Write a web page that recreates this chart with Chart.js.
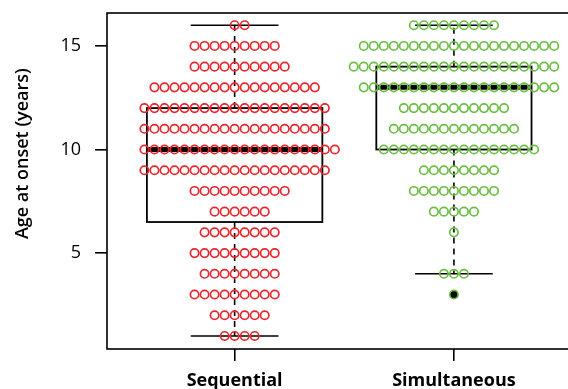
<!DOCTYPE html>
<html>
<head>
<meta charset="utf-8">
<script src="https://cdn.jsdelivr.net/npm/chart.js@4"></script>
<style>
  html, body { margin: 0; padding: 0; background: #fff; overflow: hidden; }
  #wrap { width: 580px; height: 389px; }
</style>
</head>
<body>
<div id="wrap"><canvas id="c" width="580" height="389"></canvas></div>
<script>
// ---- data ----
const categories = ['Sequential', 'Simultaneous'];
const ageLevels = [16, 15, 14, 13, 12, 11, 10, 9, 8, 7, 6, 5, 4, 3, 2, 1];
const sequentialCounts   = [2, 9, 10, 17, 19, 19, 20, 19, 10, 6, 8, 9, 8, 9, 6, 4];
const simultaneousCounts = [9, 20, 21, 20, 11, 13, 16, 8, 9, 5, 1, 0, 3, 1, 0, 0];
// box stats: [lower whisker, Q1, median, Q3, upper whisker]
const sequentialBox   = [1, 6.5, 10, 12, 16];
const simultaneousBox = [4, 10, 13, 14, 16];
const simultaneousOutliers = [3];
const yTicks = [5, 10, 15];
const yTitle = 'Age at onset (years)';

// ---- style / layout ----
const RED = '#e8262d';
const GREEN = '#6cbd45';
const DOT_STEP = 0.0457;      // horizontal spacing of swarm dots (x units)
const BOX_MAX_WIDTH = 0.8;    // varwidth boxes, widest = 0.8

function swarm(center, counts) {
  const pts = [];
  ageLevels.forEach((age, i) => {
    const n = counts[i];
    const start = Math.floor((n - 1) / 2);
    for (let k = 0; k < n; k++) {
      pts.push({ x: center + (k - start) * DOT_STEP, y: age });
    }
  });
  return pts;
}
const sum = a => a.reduce((s, v) => s + v, 0);
const nSeq = sum(sequentialCounts), nSim = sum(simultaneousCounts);
const nMax = Math.max(nSeq, nSim);
const boxes = [
  { pos: 1, stats: sequentialBox, w: BOX_MAX_WIDTH * Math.sqrt(nSeq / nMax) },
  { pos: 2, stats: simultaneousBox, w: BOX_MAX_WIDTH * Math.sqrt(nSim / nMax) }
];

const boxPlugin = {
  id: 'boxes',
  beforeDatasetsDraw(chart) {
    const { ctx, scales: { x, y } } = chart;
    ctx.save();
    ctx.strokeStyle = '#000';
    boxes.forEach(b => {
      const [lo, q1, med, q3, hi] = b.stats;
      const xl = x.getPixelForValue(b.pos - b.w / 2);
      const xr = x.getPixelForValue(b.pos + b.w / 2);
      const xc = x.getPixelForValue(b.pos);
      const cl = x.getPixelForValue(b.pos - b.w / 4);
      const cr = x.getPixelForValue(b.pos + b.w / 4);
      ctx.lineWidth = 1.6;
      ctx.setLineDash([6, 5]);
      ctx.beginPath();
      ctx.moveTo(xc, y.getPixelForValue(q3)); ctx.lineTo(xc, y.getPixelForValue(hi));
      ctx.moveTo(xc, y.getPixelForValue(q1)); ctx.lineTo(xc, y.getPixelForValue(lo));
      ctx.stroke();
      ctx.setLineDash([]);
      ctx.beginPath();
      ctx.moveTo(cl, y.getPixelForValue(hi)); ctx.lineTo(cr, y.getPixelForValue(hi));
      ctx.moveTo(cl, y.getPixelForValue(lo)); ctx.lineTo(cr, y.getPixelForValue(lo));
      ctx.stroke();
      ctx.lineWidth = 1.8;
      ctx.strokeRect(xl, y.getPixelForValue(q3), xr - xl, y.getPixelForValue(q1) - y.getPixelForValue(q3));
      ctx.lineWidth = 5;
      ctx.beginPath();
      ctx.moveTo(xl, y.getPixelForValue(med)); ctx.lineTo(xr, y.getPixelForValue(med));
      ctx.stroke();
    });
    ctx.restore();
  },
  afterDraw(chart) {
    const { ctx, chartArea: ca, scales: { y } } = chart;
    ctx.save();
    ctx.strokeStyle = '#000';
    ctx.lineWidth = 1.6;
    ctx.strokeRect(ca.left, ca.top, ca.right - ca.left, ca.bottom - ca.top);
    ctx.translate(23, y.getPixelForValue(9.8));
    ctx.rotate(-Math.PI / 2);
    ctx.fillStyle = '#000';
    ctx.font = '600 18px "Open Sans"';
    ctx.textAlign = 'center';
    ctx.textBaseline = 'middle';
    ctx.fillText(yTitle, 0, 0);
    ctx.restore();
  }
};

const pointBase = { showLine: false, pointStyle: 'circle', pointRadius: 4.2, pointHoverRadius: 4.2, pointBorderWidth: 1.7, pointBackgroundColor: 'rgba(0,0,0,0)' };

new Chart(document.getElementById('c'), {
  type: 'scatter',
  data: {
    datasets: [
      Object.assign({ label: categories[0], data: swarm(1, sequentialCounts), pointBorderColor: RED, order: 1 }, pointBase),
      Object.assign({ label: categories[1], data: swarm(2, simultaneousCounts), pointBorderColor: GREEN, order: 2 }, pointBase),
      { label: 'outliers', data: simultaneousOutliers.map(v => ({ x: 2, y: v })), showLine: false,
        pointRadius: 4.2, pointBorderWidth: 0, pointBackgroundColor: '#000', order: 3 }
    ]
  },
  options: {
    responsive: false,
    animation: false,
    events: [],
    layout: { padding: { top: 13, left: 0, right: 0, bottom: 0 } },
    plugins: { legend: { display: false }, tooltip: { enabled: false } },
    scales: {
      x: {
        type: 'linear', min: 0.418, max: 2.548,
        afterBuildTicks: s => { s.ticks = categories.map((c, i) => ({ value: i + 1 })); },
        afterFit: s => { s.height = 40; s.paddingLeft = 0; s.paddingRight = 0; },
        border: { display: false },
        grid: { drawOnChartArea: false, drawTicks: true, tickLength: 12, color: '#000', lineWidth: 1.6 },
        ticks: {
          callback: v => categories[v - 1], maxRotation: 0, padding: 9,
          color: '#000', font: { family: 'Open Sans', size: 18, weight: 'bold' }
        }
      },
      y: {
        type: 'linear', min: 0.37, max: 16.59,
        afterBuildTicks: s => { s.ticks = yTicks.map(v => ({ value: v })); },
        afterFit: s => { s.width = 107; s.paddingTop = 0; s.paddingBottom = 0; },
        border: { display: false },
        grid: { drawOnChartArea: false, drawTicks: true, tickLength: 12, color: '#000', lineWidth: 1.6 },
        ticks: { padding: 14, color: '#000', font: { family: 'Open Sans', size: 18 } }
      }
    }
  },
  plugins: [boxPlugin]
});
</script>
</body>
</html>
